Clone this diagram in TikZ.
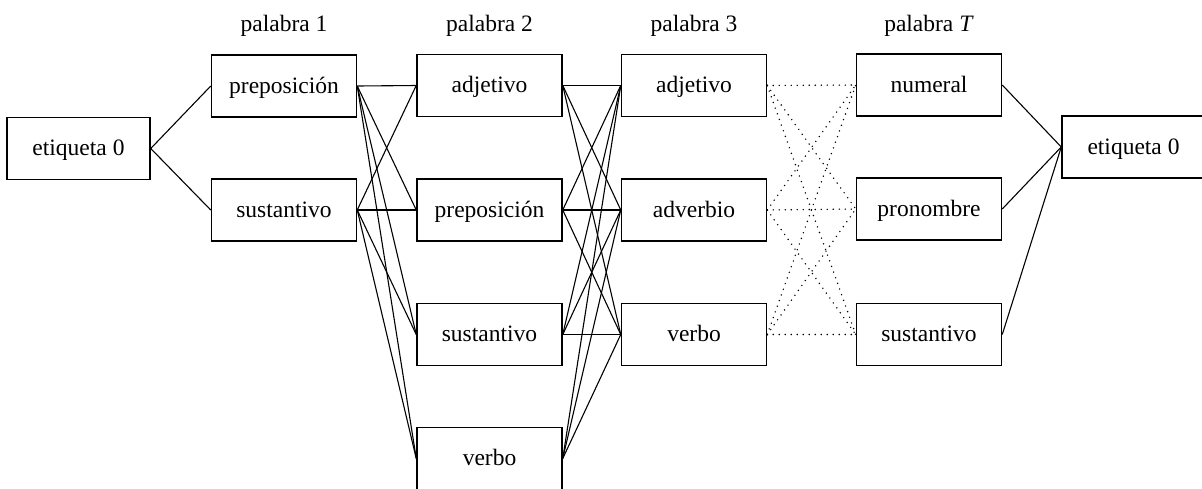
\documentclass[tikz,border=0pt]{standalone}
\usepackage{fontspec}
\setmainfont{Liberation Serif}
\begin{document}
\begin{tikzpicture}[x=1pt,y=-1pt,
  tag/.style={draw,line width=1.5pt,minimum width=145pt,minimum height=62pt,
    inner sep=0pt,text height=17pt,text depth=3pt,
    font=\fontsize{23.5}{27}\selectfont},
  head/.style={font=\fontsize{23.5}{27}\selectfont,inner sep=0pt},
  link/.style={line width=1.1pt},
  maybe/.style={line width=1.6pt,line cap=round,dash pattern=on 0pt off 6pt}]
\useasboundingbox (0,0) rectangle (1202,488);

% column headings
\node[head] (h1) at (284,26) {palabra 1};
\node[head] (h2) at (489.5,26) {palabra 2};
\node[head] (h3) at (694,26) {palabra 3};
\node[head] (hT) at (929,26) {palabra \textit{T}};

% start and end tags
\node[tag,minimum width=143pt] (s) at (78.5,148.5) {etiqueta 0};
\node[tag,minimum width=143pt] (e) at (1133.5,147) {etiqueta 0};

% word 1
\node[tag] (a1) at (284,86) {preposición};
\node[tag] (a2) at (284,210) {sustantivo};
% word 2
\node[tag] (b1) at (489.5,85.5) {adjetivo};
\node[tag] (b2) at (489.5,210) {preposición};
\node[tag] (b3) at (489.5,334.5) {sustantivo};
\node[tag] (b4) at (489.5,458.5) {verbo};
% word 3
\node[tag] (c1) at (694,85.5) {adjetivo};
\node[tag] (c2) at (694,210) {adverbio};
\node[tag] (c3) at (694,334.5) {verbo};
% word T
\node[tag] (t1) at (929,85) {numeral};
\node[tag] (t2) at (929,209) {pronombre};
\node[tag] (t3) at (929,334.5) {sustantivo};

% transitions
\foreach \j in {1,2} \draw[link] (s.east) -- (a\j.west);
\foreach \i in {1,2} \foreach \j in {1,...,4} \draw[link] (a\i.east) -- (b\j.west);
\foreach \i in {1,...,4} \foreach \j in {1,2,3} \draw[link] (b\i.east) -- (c\j.west);
\foreach \i in {1,2,3} \foreach \j in {1,2,3} \draw[maybe] (c\i.east) -- (t\j.west);
\foreach \i in {1,2,3} \draw[link] (t\i.east) -- (e.west);
\end{tikzpicture}
\end{document}
